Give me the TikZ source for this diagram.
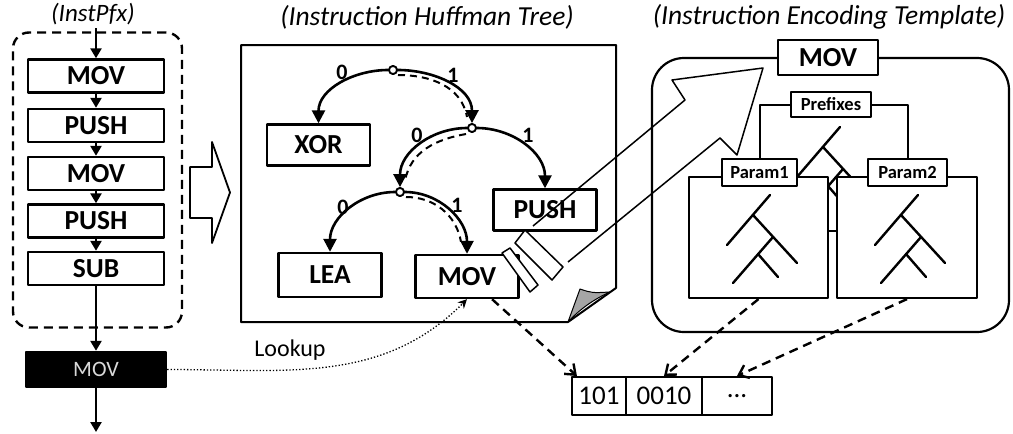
\documentclass[tikz,border=0pt]{standalone}
\usepackage{fontspec}
\setmainfont{Carlito}
\usetikzlibrary{arrows.meta}

\begin{document}
\begin{tikzpicture}[x=1pt,y=-1pt,line join=round,
	ttl/.style={font=\itshape\fontsize{27.5}{27.5}\selectfont},
	op/.style={draw=black,line width=2.4pt,fill=white,inner sep=0pt,minimum width=136pt,minimum height=33pt,font=\bfseries\fontsize{27.5}{27.5}\selectfont},
	leaf/.style={op,minimum width=103pt,minimum height=41pt},
	knot/.style={circle,draw=black,line width=1.8pt,fill=white,inner sep=0pt,minimum size=8pt},
	bit/.style={font=\bfseries\fontsize{22}{22}\selectfont},
	flow/.style={line width=2.4pt,-{Triangle[length=10pt,width=11pt]}},
	branch/.style={line width=2.6pt,-{Triangle[length=13pt,width=13pt]}},
	trace/.style={line width=2pt,dash pattern=on 7pt off 5pt},
	emit/.style={line width=2.4pt,dash pattern=on 9pt off 6pt,-{Straight Barb[length=9pt,width=14pt]}},
	fld/.style={draw=black,line width=2pt,inner sep=0pt,minimum height=38pt,font=\fontsize{27}{27}\selectfont},
	tag/.style={draw=black,line width=2.2pt,fill=white,inner sep=0pt,minimum height=27pt,font=\bfseries\fontsize{18.5}{18.5}\selectfont},
	pane/.style={draw=black,line width=2.2pt,fill=white,inner sep=0pt,minimum height=121pt},
	twig/.style={line width=2.4pt,line cap=round}]
	\useasboundingbox (0,0) rectangle (1013,434);

	\node[ttl,font=\itshape\fontsize{25}{25}\selectfont] (pfx) at (93,14) {(InstPfx)};
	\node[draw=black,line width=2.4pt,dash pattern=on 9pt off 6pt,rounded corners=16pt,inner sep=0pt,minimum width=169pt,minimum height=295pt] (grp) at (97.5,180) {};
	\node[op] (i1) at (96,76) {MOV};
	\node[op] (i2) at (96,125.5) {PUSH};
	\node[op] (i3) at (96,173.5) {MOV};
	\node[op] (i4) at (96,221) {PUSH};
	\node[op] (i5) at (96,268.5) {SUB};
	\node[op,fill=black,text=gray!30,font=\fontsize{22}{22}\selectfont,minimum width=140pt,minimum height=35pt] (cur) at (96,369.5) {MOV};
	\coordinate (out) at (96,432);
	\draw[flow] (i1 |- pfx.south) -- (i1);
	\draw[flow] (i1) -- (i2);
	\draw[flow] (i2) -- (i3);
	\draw[flow] (i3) -- (i4);
	\draw[flow] (i4) -- (i5);
	\draw[flow] (i5) -- (cur);
	\draw[flow] (cur) -- (out);

	\draw[line width=1.8pt,fill=white] (190,167) -- (212,167) -- (212,142) -- (230,192.5) -- (212,243) -- (212,218) -- (190,218) -- cycle;

	\node[ttl] (htitle) at (427,17) {(Instruction Huffman Tree)};
	\draw[line width=2pt] (241,45) -- (616,45) -- (616,288) -- (568,322) -- (241,322) -- cycle;
	\draw[line width=1pt,fill=gray!70] (568,322) .. controls (574,306) .. (580,289) .. controls (592,293) .. (610,292) .. controls (592,300) and (578,311) .. (568,322);

	\node[knot] (t0) at (393,70) {};
	\node[knot] (t1) at (472,128) {};
	\node[knot] (t2) at (400,192) {};
	\node[leaf] (xor) at (318.5,145) {XOR};
	\node[leaf] (push) at (545,210) {PUSH};
	\node[leaf,minimum height=44pt] (lea) at (330,275) {LEA};
	\node[leaf,minimum height=43pt] (mov) at (467,276.5) {MOV};
	\draw[branch] (t0) to[out=180,in=90] (xor);
	\draw[branch] (t0) to[out=0,in=90] (t1);
	\draw[branch] (t1) to[out=180,in=90] (t2);
	\draw[branch] (t1) to[out=0,in=90] (push);
	\draw[branch] (t2) to[out=180,in=90] (lea);
	\draw[branch] (t2) to[out=0,in=90] (mov);
	\draw[trace] ([shift={(5,5)}]t0.center) to[out=0,in=100] ([shift={(-5,-11)}]t1.center);
	\draw[trace] ([shift={(-6,6)}]t1.center) to[out=190,in=80] ([shift={(5,-11)}]t2.center);
	\draw[trace] ([shift={(6,5)}]t2.center) to[out=0,in=100] ([shift={(-6,-12)}]mov.north);
	\node[knot] at (t0) {};
	\node[knot] at (t1) {};
	\node[knot] at (t2) {};
	\node[bit] (e1) at (342,72) {0};
	\node[bit] (e2) at (453,75) {1};
	\node[bit] (e3) at (417,135) {0};
	\node[bit] (e4) at (528,135) {1};
	\node[bit] (e5) at (343,207) {0};
	\node[bit] (e6) at (457,205) {1};

	\node[ttl] (etitle) at (829,17) {(Instruction Encoding Template)};
	\draw[line width=2.2pt,rounded corners=32pt] (652,58) rectangle (1009,332);
	\node[op,minimum width=100pt,minimum height=35pt] (tmov) at (828,57.5) {MOV};
	\node[tag,minimum width=80pt,minimum height=25pt] (pre) at (831,104.5) {Prefixes};
	\draw[twig] (840,127) -- ++(-43,50) (823,147) -- ++(44,48) (843,169) -- ++(-40,46) (828,186) -- ++(20,23);
	\draw[line width=2pt] (837,231) -- (828,231);
	\node[pane,minimum width=139pt] (r1) at (758.5,237.5) {};
	\node[pane,minimum width=140pt] (r2) at (907,237.5) {};
	\node[tag,minimum width=75pt] (p1) at (759.5,172.5) {Param1};
	\node[tag,minimum width=79pt] (p2) at (907.5,172.5) {Param2};
	\draw[line width=2pt] (pre) -| (p1);
	\draw[line width=2pt] (pre) -| (p2);
	\foreach \gx in {770,918}
		\draw[twig] (\gx,195) -- ++(-43,50) (\gx-17,215) -- ++(44,48) (\gx+3,237) -- ++(-40,46) (\gx-12,254) -- ++(20,23);

	\draw[line width=1.5pt] (533,226) -- (685,100) -- (672,80) -- (763,68) -- (737,155) -- (720,138) -- (568,262);
	\draw[line width=1.5pt,fill=white] (515,243) -- (525,230) -- (563,267) -- (552,280) -- cycle;
	\draw[line width=1.5pt,fill=white] (502,253) -- (510,248) -- (538,285) -- (530,292) -- cycle;

	\node[fld,minimum width=54pt] (c1) at (599,396) {101};
	\node[fld,minimum width=76pt] (c2) at (664,396) {0010};
	\node[fld,minimum width=70pt] (c3) at (737,396) {...};
	\draw[emit] (mov) -- (c1);
	\draw[emit] (r1.south) -- (c2.north);
	\draw[emit] (r2.south) -- (c3.north);

	\node[font=\fontsize{24}{24}\selectfont] (lk) at (290,350) {Lookup};
	\draw[line width=1.3pt,dotted,-{Stealth[length=9pt,width=9pt]}] (cur) to[out=0,in=-135] (mov.south);
\end{tikzpicture}
\end{document}
